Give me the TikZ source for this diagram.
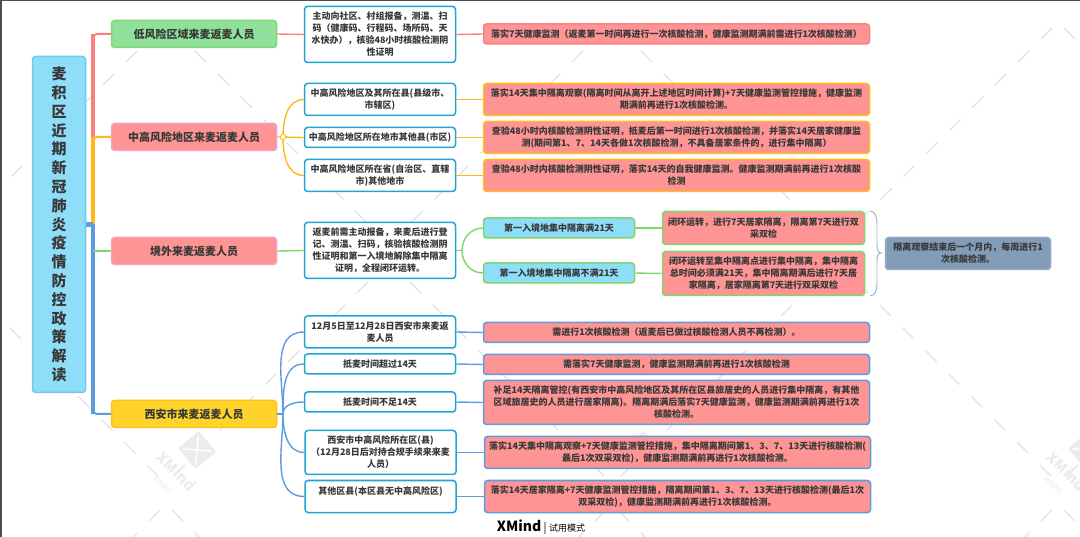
\documentclass[tikz,border=0pt]{standalone}
\usepackage{fontspec}
\setmainfont{Noto Sans CJK SC}
\definecolor{inkc}{HTML}{383838}
\definecolor{skyc}{HTML}{8EDDF9}
\definecolor{pinkc}{HTML}{FF9494}
\definecolor{mintc}{HTML}{8FE09A}
\definecolor{goldc}{HTML}{FFD42A}
\definecolor{slatec}{HTML}{839CB8}
\definecolor{tealc}{HTML}{1EA5D0}
\definecolor{lred}{HTML}{FF7F7F}
\definecolor{lorange}{HTML}{FFB818}
\definecolor{lgreen}{HTML}{7FD66A}
\definecolor{lblue}{HTML}{5B9BE0}
\definecolor{wmc}{HTML}{ECECEC}
\definecolor{wmtick}{HTML}{E2E2E2}
\definecolor{rosec}{HTML}{F5A0C8}
\tikzstyle{boxb}=[rectangle,rounded corners=3pt,draw,line width=1.5pt,align=center,inner sep=0pt,text=inkc,font=\fontsize{9}{12}\selectfont\bfseries]
\tikzstyle{topic}=[boxb,minimum width=165pt,minimum height=27pt,font=\fontsize{11}{13}\selectfont\bfseries]
\tikzstyle{midbox}=[boxb,fill=white,draw=tealc,minimum width=151pt]
\tikzstyle{endbox}=[boxb,fill=pinkc,minimum width=386pt]
\tikzstyle{linkr}=[lred,line width=1.4pt]
\tikzstyle{linko}=[lorange,line width=1.4pt]
\tikzstyle{linkg}=[lgreen,line width=1.4pt]
\tikzstyle{linkb}=[lblue,line width=1.4pt]

\begin{document}
\begin{tikzpicture}[x=1pt,y=-1pt]
    \useasboundingbox (0,0) rectangle (1080,537);
    % watermark
    \foreach \vx/\vy/\first/\last in {166/22/6/8,612/22/6/8,1058/22/6/8,389/261/21/8,836/261/21/8,-57/261/21/8,1282/261/21/8,166/504/6/1,612/504/6/1,1058/504/6/1}
    \foreach \k in {0,...,\last} {
        \pgfmathsetmacro{\off}{\first+22.9*\k}
        \draw[wmtick,line width=1.3pt] (\vx+\off,\vy+\off) -- ++(11,11);
        \draw[wmtick,line width=1.3pt] (\vx-\off,\vy+\off) -- ++(-11,11);
    }
    \foreach \dx in {0,445,890} {
        \node[rectangle,rounded corners=2pt,fill=wmc,minimum size=27pt,inner sep=0pt,rotate=40] (logo\dx) at (197+\dx,450) {};
        \draw[white,line width=1.5pt,shorten >=5pt,shorten <=5pt] (logo\dx.north west) -- (logo\dx.south east);
        \draw[white,line width=1.5pt,shorten >=5pt,shorten <=5pt] (logo\dx.north east) -- (logo\dx.south west);
    }
    \foreach \dx in {0,890} {
        \node[rotate=-45,text=wmc,inner sep=0pt,font=\fontsize{15}{15}\selectfont\bfseries] (mark\dx) at (177+\dx,471) {XMind};
        \node[rotate=-45,text=wmc,inner sep=0pt,font=\fontsize{6}{6}\selectfont] (trial\dx) at (163+\dx,485) {试用模式};
    }
    \draw[black!70,line width=3pt] (1080,0) -- (0,0) -- (0,537);

    % trunk
    \coordinate (stem) at (93,224.5);
    \coordinate (lowbend) at (93,34);
    \coordinate (midbend) at (93,137);
    \coordinate (xianbend) at (93,414);
    \coordinate (abroadroot) at (93,251);
    \coordinate (rootstub) at (86,224.5);
    \coordinate (lowend0) at (111,34);
    \coordinate (midend0) at (111,137);
    \coordinate (abroadend0) at (111,251);
    \coordinate (xianend0) at (111,414);
    \draw[lred,line width=4.5pt] (stem) -- (lowbend);
    \draw[lred,line width=2pt,rounded corners=4pt] (stem) |- (lowend0);
    \draw[lorange,line width=4.5pt] (stem) -- (midbend);
    \draw[lorange,line width=2pt,rounded corners=4pt] (stem) |- (midend0);
    \draw[lblue,line width=4.5pt] (stem) -- (xianbend);
    \draw[lblue,line width=2pt,rounded corners=4pt] (stem) |- (xianend0);
    \draw[lblue,line width=4.5pt] (rootstub) -- (stem);
    \draw[lgreen,line width=1.2pt] (abroadroot) -- (abroadend0);

    \node[boxb,fill=skyc,draw=skyc!70!tealc,minimum width=53pt,minimum height=336pt,font=\fontsize{15}{18.8}\selectfont\bfseries] (root) at (59,224.5)
        {麦\\积\\区\\近\\期\\新\\冠\\肺\\炎\\疫\\情\\防\\控\\政\\策\\解\\读};

    \node[topic,fill=mintc,draw=lgreen!80!mintc] (low) at (194,34) {低风险区域来麦返麦人员};
    \node[topic,fill=pinkc,draw=rosec] (mid) at (194,137) {中高风险地区来麦返麦人员};
    \node[topic,fill=pinkc,draw=rosec] (abroad) at (194,251) {境外来麦返麦人员};
    \node[topic,fill=goldc,draw=lorange!80!goldc] (xian) at (194,414) {西安市来麦返麦人员};

    \node[midbox,minimum height=56pt] (low1) at (380,34.5) {主动向社区、村组报备，测温、扫\\码（健康码、行程码、场所码、天\\水快办），核验48小时核酸检测阴\\性证明};
    \node[midbox,minimum height=32pt] (mid1) at (380,99.5) {中高风险地区及其所在县(县级市、\\市辖区)};
    \node[midbox,minimum height=20pt] (mid2) at (380,137.5) {中高风险地区所在地市其他县(市区)};
    \node[midbox,minimum height=32pt] (mid3) at (380,175.5) {中高风险地区所在省(自治区、直辖\\市)其他地市};
    \node[midbox,minimum height=56pt] (abroad1) at (380,250.5) {返麦前需主动报备，来麦后进行登\\记、测温、扫码，核验核酸检测阴\\性证明和第一入境地解除集中隔离\\证明，全程闭环运转。};
    \node[midbox,minimum height=32pt] (xian1) at (380,332) {12月5日至12月28日西安市来麦返\\麦人员};
    \node[midbox,minimum height=20pt] (xian2) at (380,364) {抵麦时间超过14天};
    \node[midbox,minimum height=20pt] (xian3) at (380,402) {抵麦时间不足14天};
    \node[midbox,minimum height=44pt] (xian4) at (380.5,452.5) {西安市中高风险所在区(县)\\（12月28日后对持合规手续来来麦\\人员）};
    \node[midbox,minimum height=32pt] (xian5) at (380.5,496.5) {其他区县(本区县无中高风险区)\\~};

    \node[endbox,draw=lred,minimum height=20pt] (lowend) at (676.5,34) {落实7天健康监测（返麦第一时间再进行一次核酸检测，健康监测期满前需进行1次核酸检测）};
    \node[endbox,draw=lorange!80!goldc,minimum height=32pt] (midend1) at (676.5,99.5) {落实14天集中隔离观察(隔离时间从离开上述地区时间计算)+7天健康监测管控措施，健康监测\\期满前再进行1次核酸检测。};
    \node[endbox,draw=lorange!80!goldc,minimum height=32pt] (midend2) at (676.5,137.5) {查验48小时内核酸检测阴性证明，抵麦后第一时间进行1次核酸检测，并落实14天居家健康监\\测(期间第1、7、14天各做1次核酸检测，不具备居家条件的，进行集中隔离）};
    \node[endbox,draw=lorange!80!goldc,minimum height=32pt] (midend3) at (676.5,175.5) {查验48小时内核酸检测阴性证明，落实14天的自我健康监测。健康监测期满前再进行1次核酸\\检测};

    \node[boxb,fill=skyc,draw=lgreen,minimum width=151pt,minimum height=20pt] (entry1) at (559,228) {第一入境地集中隔离满21天};
    \node[boxb,fill=skyc,draw=lgreen,minimum width=151pt,minimum height=20pt] (entry2) at (559,273) {第一入境地集中隔离不满21天};
    \node[boxb,fill=pinkc,draw=lgreen,minimum width=202pt,minimum height=33pt] (loop1) at (763.5,228) {闭环运转，进行7天居家隔离，隔离第7天进行双\\采双检};
    \node[boxb,fill=pinkc,draw=lgreen,minimum width=202pt,minimum height=44pt] (loop2) at (763.5,273.5) {闭环运转至集中隔离点进行集中隔离，集中隔离\\总时间必须满21天，集中隔离期满后进行7天居\\家隔离，居家隔离第7天进行双采双检};
    \node[boxb,fill=slatec,draw=slatec!85!white,minimum width=165pt,minimum height=32pt] (summary) at (968,253.5) {隔离观察结束后一个月内，每周进行1\\次核酸检测。};

    \node[endbox,draw=lblue,minimum height=20pt] (xianend1) at (676.5,332.5) {需进行1次核酸检测（返麦后已做过核酸检测人员不再检测）。};
    \node[endbox,draw=lblue,minimum height=20pt] (xianend2) at (676.5,364.5) {需落实7天健康监测，健康监测期满前再进行1次核酸检测};
    \node[endbox,draw=lblue,minimum height=44pt] (xianend3) at (676.5,402.5) {补足14天隔离管控(有西安市中高风险地区及其所在区县旅居史的人员进行集中隔离，有其他\\区域旅居史的人员进行居家隔离)。隔离期满后落实7天健康监测，健康监测期满前再进行1次\\核酸检测。};
    \node[endbox,draw=lblue,minimum height=32pt] (xianend4) at (677.5,452.5) {落实14天集中隔离观察+7天健康监测管控措施，集中隔离期间第1、3、7、13天进行核酸检测(\\最后1次双采双检)，健康监测期满前再进行1次核酸检测。};
    \node[endbox,draw=lblue,minimum height=32pt] (xianend5) at (677.5,496.5) {落实14天居家隔离+7天健康监测管控措施，隔离期间第1、3、7、13天进行核酸检测(最后1次\\双采双检)，健康监测期满前再进行1次核酸检测。};

    \node[text=black,inner sep=0pt,font=\fontsize{14}{14}\selectfont\bfseries] (brand) at (541,527) {XMind\,{\fontsize{11}{11}\selectfont\mdseries|}\,{\fontsize{9}{9}\selectfont\mdseries 试用模式}};

    % links
    \coordinate (midfork) at (283,137);
    \coordinate (abroadfork) at (462,250.5);
    \coordinate (xianfork) at (283,414);
    \coordinate (bracetop) at (870,211);
    \coordinate (bracetip) at (881,253);
    \coordinate (bracebot) at (870,296);
    \foreach \from/\to in {low.east/low1.west,low1.east/lowend.west}
    \draw[linkr] (\from) -- (\to);
    \foreach \from/\to in {mid1.east/midend1.west,mid2.east/midend2.west,mid3.east/midend3.west,mid.east/mid2.west}
    \draw[linko] (\from) -- (\to);
    \foreach \to/\ang in {mid1/90,mid3/-90}
    \draw[linko] (midfork) to[out=\ang,in=180] (\to.west);
    \foreach \from/\to in {abroad.east/abroad1.west,abroad1.east/abroadfork,entry1.east/loop1.west,entry2.east/loop2.west}
    \draw[linkg] (\from) -- (\to);
    \foreach \to/\ang in {entry1/90,entry2/-90}
    \draw[linkg] (abroadfork) to[out=\ang,in=180] (\to.west);
    \draw[linkb] (xian.east) -- (xianfork);
    \foreach \to/\ang in {xian1/90,xian2/90,xian3/90,xian4/-90,xian5/-90}
    \draw[linkb] (xianfork) to[out=\ang,in=180] (\to.west);
    \foreach \from/\to in {xian1.east/xianend1.west,xian2.east/xianend2.west,xian3.east/xianend3.west,xian4.east/xianend4.west,xian5.east/xianend5.west}
    \draw[linkb] (\from) -- (\to);
    \node[circle,draw=lorange,fill=white,line width=0.8pt,minimum size=5.5pt,inner sep=0pt] (midknob) at (midfork) {};

    \draw[slatec!80,line width=0.9pt] (bracetop) .. controls (875,212) and (877,215) .. (877,225) -- (877,245) .. controls (877,250) and (878,253) .. (bracetip) .. controls (878,253) and (877,256) .. (877,261) -- (877,282) .. controls (877,292) and (875,295) .. (bracebot);
\end{tikzpicture}
\end{document}
